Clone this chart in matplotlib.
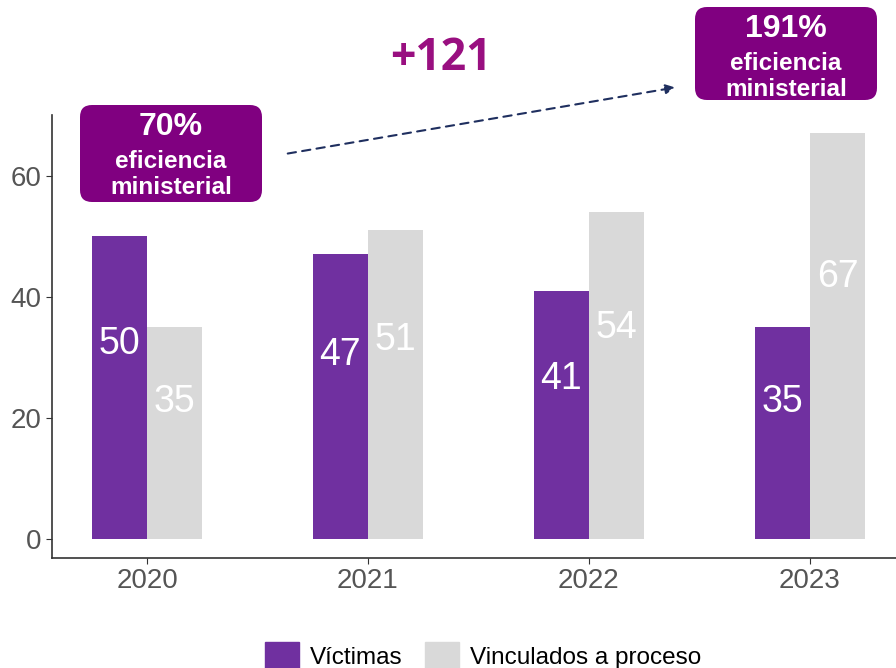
import matplotlib
matplotlib.use("Agg")
import matplotlib.pyplot as plt
import numpy as np
from matplotlib.patches import FancyBboxPatch, Patch
from matplotlib.transforms import IdentityTransform

years = ["2020", "2021", "2022", "2023"]
victimas = [50, 47, 41, 35]
vinculados = [35, 51, 54, 67]
series_names = ["Víctimas", "Vinculados a proceso"]
yticks = [0, 20, 40, 60]
eff_left = ["70%", "eficiencia", "ministerial"]
eff_right = ["191%", "eficiencia", "ministerial"]
delta_text = "+121"

W, H = 896, 668
plt.rcParams['font.family'] = ['Liberation Sans', 'DejaVu Sans']
fig = plt.figure(figsize=(W/100, H/100), dpi=100)
ax = fig.add_axes([52/W, 1-558/H, 1-52/W, (558-115)/H])

purple = "#7030A0"
gray = "#D9D9D9"
x = np.arange(len(years))
w = 0.25
ax.bar(x - w/2, victimas, width=w, color=purple)
ax.bar(x + w/2, vinculados, width=w, color=gray)
for xi, v in zip(x, victimas):
    ax.text(xi - w/2, v*0.645, str(v), ha='center', va='center', color='white', fontsize=27)
for xi, v in zip(x, vinculados):
    ax.text(xi + w/2, v*0.645, str(v), ha='center', va='center', color='white', fontsize=27)

ax.set_xlim(-0.43, 3.39)
ax.set_ylim(-3.1, 70)
ax.set_xticks(x)
ax.set_xticklabels(years)
ax.set_yticks(yticks)
ax.tick_params(axis='both', labelsize=20, labelcolor='#555555', color='#333333', length=4)
for s in ['top', 'right']:
    ax.spines[s].set_visible(False)
for s in ['left', 'bottom']:
    ax.spines[s].set_color('#333333')
    ax.spines[s].set_linewidth(1.2)

handles = [Patch(color=purple), Patch(color=gray)]
fig.legend(handles, series_names, loc='center', bbox_to_anchor=(483/W, 1-656/H),
           ncol=2, frameon=False, fontsize=17.5, handlelength=1.4, handleheight=1.4,
           handletextpad=0.45, columnspacing=0.9, borderpad=0)

def box(x0, y0, x1, y1, lines):
    p = FancyBboxPatch((x0, H-y1), x1-x0, y1-y0, boxstyle="round,pad=0,rounding_size=12",
                       transform=IdentityTransform(), facecolor="#800080", edgecolor='none')
    fig.add_artist(p)
    cx = (x0+x1)/2
    fig.text(cx/W, 1-(y0+22)/H, lines[0], ha='center', va='center', color='white',
             fontsize=23, fontweight='bold')
    fig.text(cx/W, 1-(y0+57)/H, lines[1], ha='center', va='center', color='white',
             fontsize=17.5, fontweight='bold')
    fig.text(cx/W, 1-(y0+83)/H, lines[2], ha='center', va='center', color='white',
             fontsize=17.5, fontweight='bold')

box(80, 105, 262, 202, eff_left)
box(695, 7, 877, 100, eff_right)

fig.text(441/W, 1-59/H, delta_text, ha='center', va='center', color='#990F80',
         fontsize=32, fontweight='bold', family=['Open Sans', 'DejaVu Sans'])

fig.add_artist(matplotlib.patches.FancyArrowPatch((285/W, 1-154/H), (678/W, 1-87/H),
               transform=fig.transFigure, arrowstyle='-|>', mutation_scale=14,
               linestyle=(0, (4, 3)), color='#1F2F5F', linewidth=1.5))

fig.savefig("out.png", dpi=100)
